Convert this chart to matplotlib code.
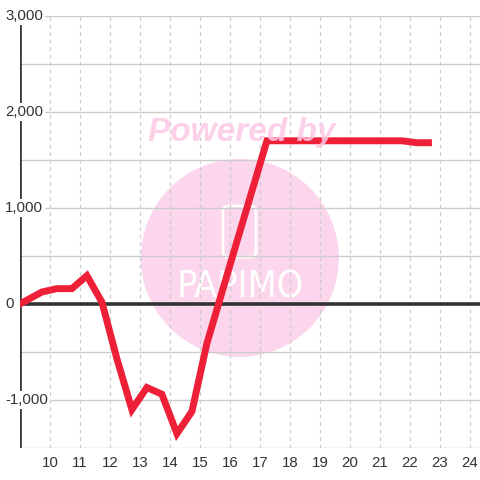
import matplotlib
matplotlib.use("Agg")
import matplotlib.pyplot as plt
from matplotlib.patches import Ellipse, FancyBboxPatch

x_vals = [8.73, 9.23, 9.73, 10.23, 10.73, 11.23, 11.73, 12.23, 12.73, 13.23, 13.73,
          14.23, 14.73, 15.23, 15.73, 16.23, 16.73, 17.23, 17.73, 18.23, 18.73,
          19.23, 19.73, 20.23, 20.73, 21.23, 21.73, 22.23, 22.73]
y_vals = [-45, 40, 125, 160, 160, 295, 20, -570, -1100, -870, -940,
          -1350, -1120, -410, 120, 650, 1175, 1700, 1700, 1700, 1700,
          1700, 1700, 1700, 1700, 1700, 1700, 1680, 1680]
x_ticks = list(range(10, 25))
y_ticks = [-1000, 0, 1000, 2000, 3000]
y_labels = ["-1,000", "0", "1,000", "2,000", "3,000"]

plt.rcParams['font.family'] = ['Liberation Sans', 'DejaVu Sans']

fig = plt.figure(figsize=(4.8, 4.8), dpi=100)
fig.patch.set_facecolor('white')
ax = fig.add_axes([20/480, 32/480, 460/480, 432/480])
ax.set_facecolor('white')
ax.set_xlim(9, 24.333)
ax.set_ylim(-1500, 3000)

# watermark
ax.add_patch(Ellipse((0.478, 0.44), 198/460, 198/432, transform=ax.transAxes,
                     facecolor='#fcd6ec', edgecolor='none', zorder=0.5))
ax.add_patch(FancyBboxPatch(((223-20)/460, (448-257)/432), 33/460, 51/432,
                            boxstyle='round,pad=0,rounding_size=0.012',
                            transform=ax.transAxes, facecolor='none',
                            edgecolor='white', linewidth=2, zorder=0.6))
ax.text((240-20)/460, (448-287)/432, "PAPIMO", transform=ax.transAxes,
        ha='center', va='center', color='white', fontsize=27,
        family='DejaVu Sans', stretch='condensed', fontweight='light', zorder=0.6)

# grid
for yv in range(-1500, 3001, 500):
    if yv == 0:
        continue
    ax.axhline(yv, color='#cccccc', lw=1, zorder=1)
for xv in x_ticks:
    ax.axvline(xv, color='#cccccc', lw=0.9, ls=(0, (3, 3)), zorder=1)
ax.axhline(0, color='#333333', lw=2.6, zorder=2)
ax.axvline(9, ymin=0, ymax=(4500 - 80)/4500, color='#333333', lw=2.6, zorder=2)

ax.plot(x_vals, y_vals, color='#ee2038', lw=5, solid_joinstyle='miter',
        solid_capstyle='butt', zorder=3, clip_on=True)

ax.text((242-20)/460, (448-133)/432, "Powered by", transform=ax.transAxes,
        ha='center', va='center', color='#fbc8e4', alpha=0.85, fontsize=24,
        fontweight='bold', fontstyle='italic', zorder=4)

for s in ax.spines.values():
    s.set_visible(False)
ax.set_xticks(x_ticks)
ax.set_xticklabels([str(t) for t in x_ticks])
ax.tick_params(axis='x', length=0, pad=6, labelsize=10.8, labelcolor='#333333')
ax.set_yticks([])

for yv, lab in zip(y_ticks, y_labels):
    ax.text(-15/460, yv, lab, transform=ax.get_yaxis_transform(), ha='left',
            va='center', fontsize=10.8, color='#333333', zorder=5, clip_on=False,
            bbox=dict(facecolor='white', edgecolor='none', pad=1.5))

fig.savefig('out.png', dpi=100, facecolor='white')
